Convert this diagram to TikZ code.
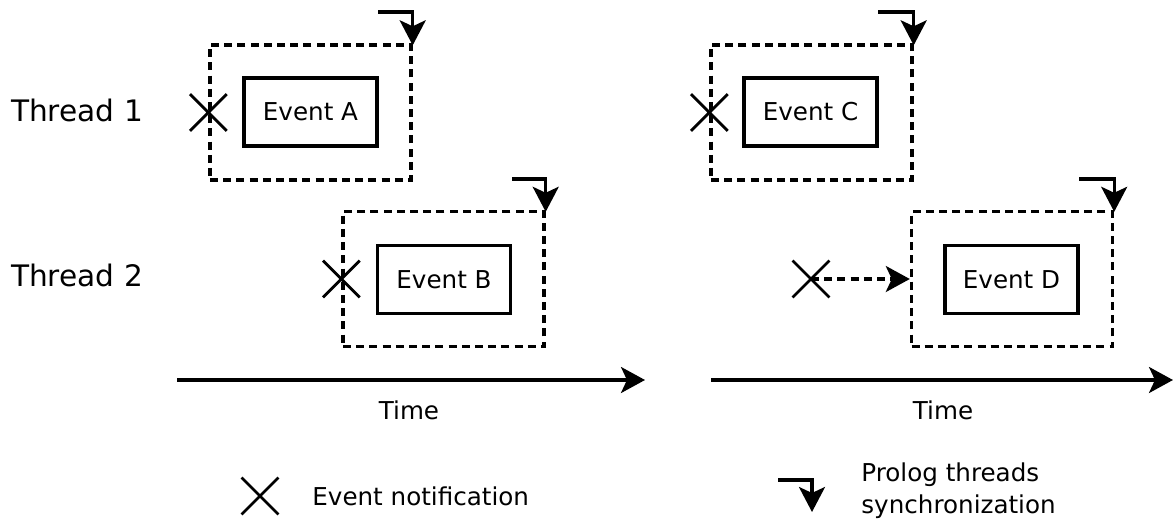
\documentclass[tikz,border=0pt]{standalone}
\usepackage{fontspec}
\setmainfont{DejaVu Sans}
\usetikzlibrary{arrows.meta,shapes.misc}
\tikzset{
  evbox/.style={draw, line width=1.6pt, inner sep=0pt, minimum width=66.5pt, minimum height=34pt, font=\fontsize{12.3}{15}\selectfont},
  waitbox/.style={draw, line width=1.7pt, dash pattern=on 4pt off 2.6pt, inner sep=0pt, minimum width=100.5pt, minimum height=67.5pt},
  notif/.style={cross out, draw, line width=1.4pt, inner sep=0pt, minimum size=17pt},
  bighead/.style={-{Stealth[length=#1, width=13pt, inset=3pt]}},
  syncarrow/.style={line width=1.6pt, bighead=12.5pt},
  timearrow/.style={line width=1.6pt, bighead=12pt},
  lbl/.style={font=\fontsize{12.3}{16}\selectfont, inner sep=0pt},
  thread/.style={font=\fontsize{14.8}{18}\selectfont, inner sep=0pt},
}
\begin{document}
\begin{tikzpicture}[x=0.5pt, y=-0.5pt]
\useasboundingbox (0,0) rectangle (1173,519);

% thread labels
\node[thread] (th1) at (77,110) {Thread 1};
\node[thread] (th2) at (77,275) {Thread 2};

% left panel: events and their waiting regions
\node[waitbox] (wA) at (310.5,112.5) {};
\node[evbox] (eA) at (310.5,112) {Event A};
\node[waitbox] (wB) at (443.5,279) {};
\node[evbox] (eB) at (444,279.5) {Event B};
\node[notif] (xA) at (wA.west) {};
\node[notif] (xB) at (wB.west) {};

\coordinate (sA) at (378,12);
\coordinate (sB) at (512,179);
\draw[syncarrow, shorten >=-1pt] (sA) -| (wA.north east);
\draw[syncarrow, shorten >=-1pt] (sB) -| (wB.north east);

% right panel
\node[waitbox] (wC) at (811.5,112.5) {};
\node[evbox] (eC) at (810.5,112) {Event C};
\node[waitbox] (wD) at (1012,279) {};
\node[evbox] (eD) at (1011.5,279.5) {Event D};
\node[notif] (xC) at (wC.west) {};
\node[notif] (xD) at (811,279) {};
\draw[line width=1.6pt, dash pattern=on 4pt off 2.6pt, bighead=12pt] (xD.center) -- (wD.west);

\coordinate (sC) at (878,12);
\coordinate (sD) at (1079,179);
\draw[syncarrow, shorten >=-1pt] (sC) -| (wC.north east);
\draw[syncarrow, shorten >=-1pt] (sD) -| (wD.north east);

% time axes
\coordinate (t1s) at (177,380);
\coordinate (t1e) at (645,380);
\coordinate (t2s) at (711,380);
\coordinate (t2e) at (1173,380);
\draw[timearrow] (t1s) -- (t1e);
\draw[timearrow] (t2s) -- (t2e);
\node[lbl] (time1) at (409,410) {Time};
\node[lbl] (time2) at (943,410) {Time};

% legend
\node[notif] (legx) at (260,496) {};
\node[lbl, anchor=west] (legxt) at (312,496) {Event notification};
\coordinate (legs) at (778,480);
\coordinate (lege) at (812,512);
\draw[syncarrow] (legs) -| (lege);
\node[lbl, anchor=west, align=left] (legst) at (861,491) {Prolog threads\\synchronization};
\end{tikzpicture}
\end{document}
